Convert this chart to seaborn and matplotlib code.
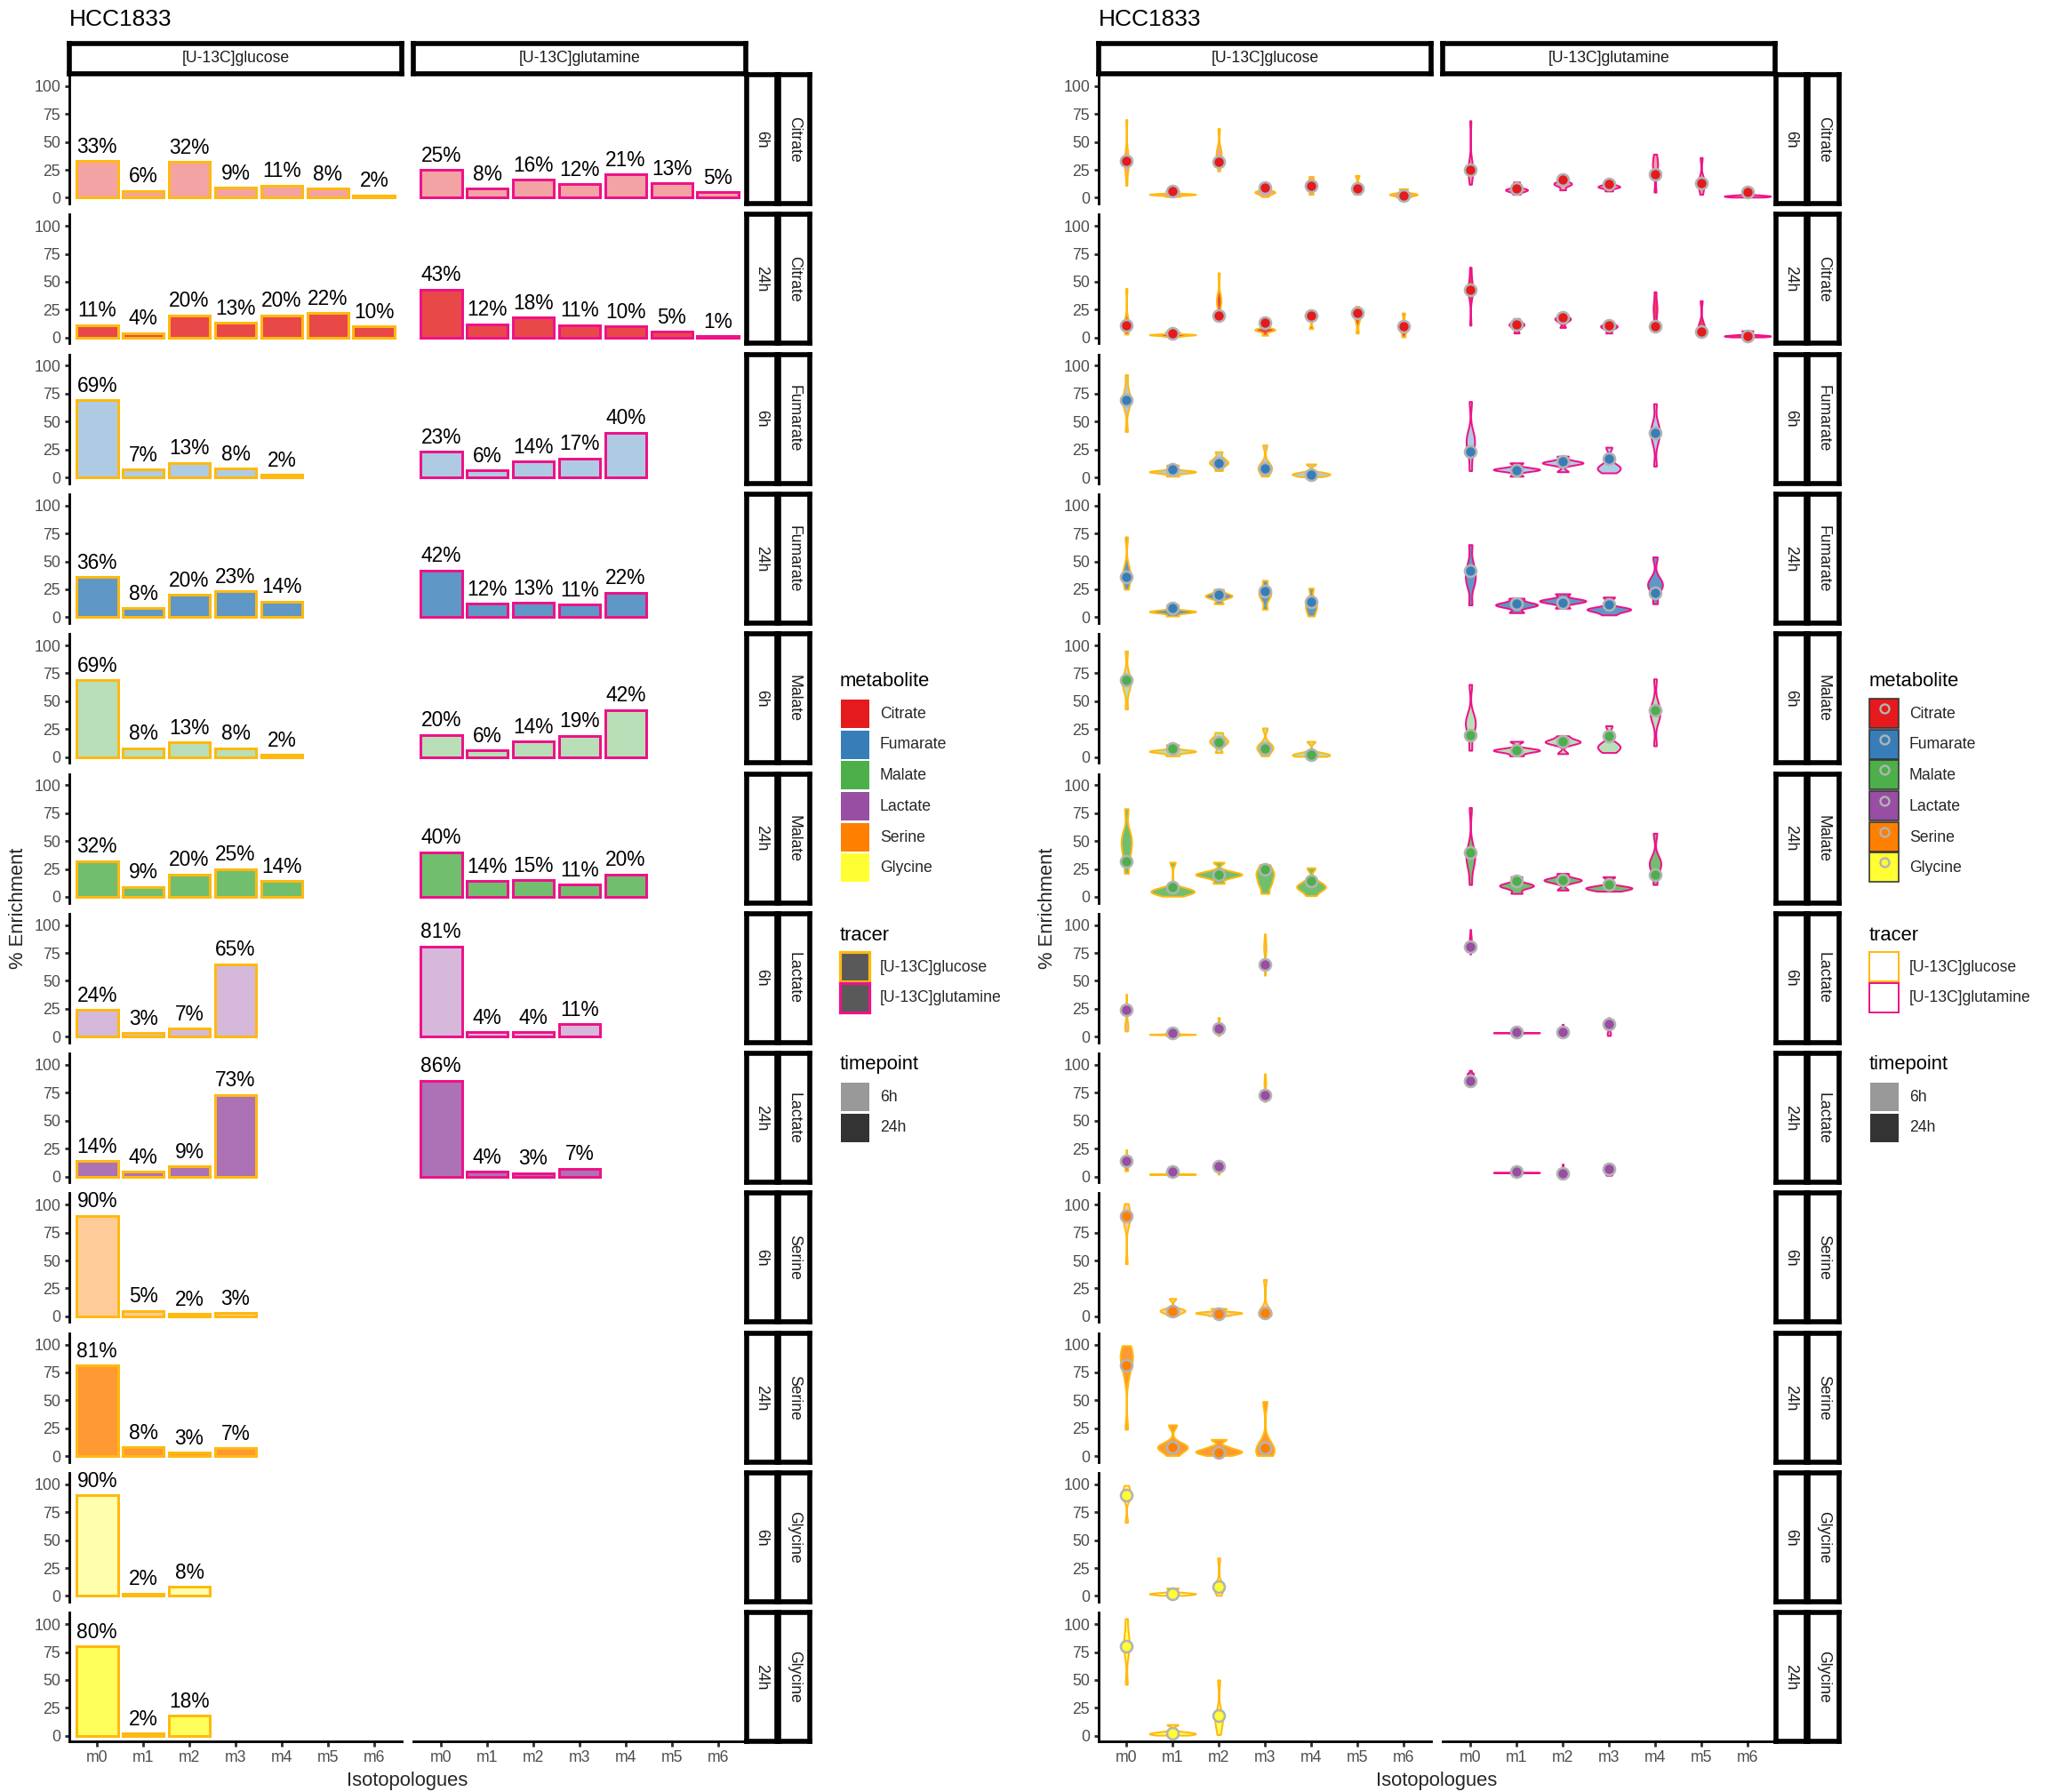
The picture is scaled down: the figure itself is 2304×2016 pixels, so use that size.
import matplotlib
matplotlib.use("Agg")
import matplotlib.pyplot as plt
import seaborn as sns
import pandas as pd
import numpy as np
from matplotlib.patches import Patch
from matplotlib.lines import Line2D
from matplotlib.colors import to_rgb

# ---------------- data ----------------
cell_line = "HCC1833"
metabolites = ["Citrate", "Fumarate", "Malate", "Lactate", "Serine", "Glycine"]
timepoints = ["6h", "24h"]
tracers = ["[U-13C]glucose", "[U-13C]glutamine"]
isotopologues = ["m0", "m1", "m2", "m3", "m4", "m5", "m6"]
metabolite_colors = ["#E41A1C", "#377EB8", "#4DAF4A", "#984EA3", "#FF7F00", "#FFFF33"]
tracer_colors = ["#FFB90F", "#EE1289"]
timepoint_alpha = [0.4, 0.8]

# mean % enrichment (bar heights / points)
citrate_6h_glucose = [33, 6, 32, 9, 11, 8, 2]
citrate_6h_glutamine = [25, 8, 16, 12, 21, 13, 5]
citrate_24h_glucose = [11, 4, 20, 13, 20, 22, 10]
citrate_24h_glutamine = [43, 12, 18, 11, 10, 5, 1]
fumarate_6h_glucose = [69, 7, 13, 8, 2]
fumarate_6h_glutamine = [23, 6, 14, 17, 40]
fumarate_24h_glucose = [36, 8, 20, 23, 14]
fumarate_24h_glutamine = [42, 12, 13, 11, 22]
malate_6h_glucose = [69, 8, 13, 8, 2]
malate_6h_glutamine = [20, 6, 14, 19, 42]
malate_24h_glucose = [32, 9, 20, 25, 14]
malate_24h_glutamine = [40, 14, 15, 11, 20]
lactate_6h_glucose = [24, 3, 7, 65]
lactate_6h_glutamine = [81, 4, 4, 11]
lactate_24h_glucose = [14, 4, 9, 73]
lactate_24h_glutamine = [86, 4, 3, 7]
serine_6h_glucose = [90, 5, 2, 3]
serine_6h_glutamine = []
serine_24h_glucose = [81, 8, 3, 7]
serine_24h_glutamine = []
glycine_6h_glucose = [90, 2, 8]
glycine_6h_glutamine = []
glycine_24h_glucose = [80, 2, 18]
glycine_24h_glutamine = []

# replicate-level values behind the violins (one list per isotopologue)
citrate_6h_glucose_samples = [[11, 24, 29, 31, 33, 36, 42, 70], [1, 2.5, 3, 3, 3.5, 6], [24, 33, 37, 40, 44, 62],
                              [1, 4, 5, 5, 6, 13], [3, 9, 11, 12, 14, 19], [3, 6, 8, 9, 11, 20], [0.5, 2, 3, 3, 4, 8]]
citrate_6h_glutamine_samples = [[12, 20, 23, 25, 28, 33, 69], [3, 6, 7, 7, 8, 14], [7, 11, 12, 13, 14, 19],
                                [6, 9, 10, 10, 12, 15], [5, 20, 26, 30, 33, 39], [3, 10, 12, 14, 18, 36],
                                [0.5, 1, 1.5, 1.5, 2, 6]]
citrate_24h_glucose_samples = [[3, 8, 10, 12, 16, 44], [1, 2, 2.5, 2.5, 3, 5], [16, 28, 32, 34, 37, 58],
                               [2, 6, 7, 7, 8, 12], [8, 17, 19, 20, 21, 23], [4, 14, 18, 21, 23, 28],
                               [0.5, 6, 8, 10, 12, 22]]
citrate_24h_glutamine_samples = [[11, 36, 41, 43, 46, 52, 63], [4, 9, 11, 12, 13, 17], [9, 14, 16, 17, 18, 21],
                                 [4, 8, 10, 10, 12, 15], [5, 10, 20, 26, 30, 41], [2, 5, 7, 9, 13, 33],
                                 [0.5, 1, 1.5, 1.5, 2, 6]]
fumarate_6h_glucose_samples = [[41, 62, 67, 69, 72, 78, 92], [1, 4.5, 5, 5, 5.5, 11], [6, 11, 13, 14, 17, 23],
                               [1, 6, 8, 9, 13, 29], [0.5, 2, 3, 3, 4, 12]]
fumarate_6h_glutamine_samples = [[6, 22, 28, 32, 35, 40, 68], [1, 6, 7, 7, 8, 13], [5, 12, 13, 13, 14, 19],
                                 [4, 7, 8, 9, 12, 27], [10, 30, 37, 40, 43, 48, 66]]
fumarate_24h_glucose_samples = [[25, 33, 36, 40, 45, 72], [1, 4.5, 5, 5, 5.5, 11], [12, 17, 19, 19, 21, 25],
                                [7, 16, 20, 22, 25, 33], [1, 6, 9, 12, 16, 26]]
fumarate_24h_glutamine_samples = [[11, 28, 33, 37, 42, 48, 65], [4, 9, 11, 11, 13, 17], [8, 13, 14, 15, 16, 21],
                                  [2, 6, 7, 7, 8, 18], [12, 25, 28, 30, 34, 54]]
malate_6h_glucose_samples = [[43, 60, 64, 67, 70, 75, 95], [1, 4.5, 5, 5, 6, 11], [4, 11, 13, 15, 17, 22],
                             [1, 6, 8, 9, 12, 26], [0.5, 1.5, 2, 2, 3, 14]]
malate_6h_glutamine_samples = [[6, 22, 27, 30, 33, 38, 65], [1, 5, 6, 6, 7, 14], [3, 12, 13, 14, 15, 19],
                               [4, 7, 9, 10, 13, 28], [10, 32, 37, 40, 43, 48, 70]]
malate_24h_glucose_samples = [[21, 35, 42, 48, 52, 58, 79], [0.5, 3, 4, 4.5, 5, 5, 5.5, 6, 7, 31],
                              [12, 17, 19, 20, 20, 21, 23, 31], [3, 10, 14, 18, 21, 24, 29], [1, 6, 8, 9, 11, 14, 26]]
malate_24h_glutamine_samples = [[11, 28, 33, 36, 39, 45, 80], [3, 8, 10, 10, 12, 18], [6, 13, 15, 15, 16, 21],
                                [5, 7, 8, 8, 9, 18], [11, 24, 28, 31, 34, 57]]
lactate_6h_glucose_samples = [[5, 8, 9, 10, 12, 38], [1, 1.8, 2, 2, 2.2, 3], [1, 5, 7, 7, 9, 17],
                              [55, 75, 79, 81, 84, 92]]
lactate_6h_glutamine_samples = [[74, 84, 87, 88, 90, 96], [3, 3.4, 3.5, 3.5, 3.6, 4], [1, 2.5, 3, 3, 4, 11],
                                [1, 2, 2.5, 3, 4, 17]]
lactate_24h_glucose_samples = [[5, 6.5, 7, 7, 8, 24], [1.5, 1.9, 2, 2, 2.1, 2.5], [2, 6, 7, 8, 9, 12],
                               [67, 80, 83, 84, 87, 92]]
lactate_24h_glutamine_samples = [[89, 91, 92, 92, 93, 95], [3, 3.4, 3.5, 3.5, 3.6, 4], [1, 1.8, 2, 2, 3, 11],
                                 [1, 1.8, 2, 2, 3, 9]]
serine_6h_glucose_samples = [[47, 82, 87, 89, 91, 94, 101], [0.5, 4, 5, 5, 6, 16], [0.5, 2, 3, 3, 4, 7],
                             [0.5, 2, 3, 3, 5, 33]]
serine_6h_glutamine_samples = []
serine_24h_glucose_samples = [[24, 70, 80, 85, 88, 91, 94, 99], [0.5, 6, 8, 8, 11, 28], [0.5, 3, 4, 5, 8, 15],
                              [0.5, 4, 5, 6, 12, 49]]
serine_24h_glutamine_samples = []
glycine_6h_glucose_samples = [[66, 87, 90, 91, 94, 99], [0.5, 1.5, 2, 2, 2.5, 7], [0.5, 6, 7, 8, 11, 34]]
glycine_6h_glutamine_samples = []
glycine_24h_glucose_samples = [[46, 72, 80, 84, 90, 105], [0.5, 1.5, 2, 2, 3, 10], [1, 10, 14, 16, 22, 50]]
glycine_24h_glutamine_samples = []

# ---------------- tables built from the arrays ----------------
g = globals()
bar_records, samp_records = [], []
for m in metabolites:
    for t in timepoints:
        for tr, trk in zip(tracers, ["glucose", "glutamine"]):
            key = f"{m.lower()}_{t}_{trk}"
            for iso, v in zip(isotopologues, g[key]):
                bar_records.append(dict(metabolite=m, timepoint=t, tracer=tr, iso=iso, value=v))
            for iso, ss in zip(isotopologues, g[key + "_samples"]):
                for s in ss:
                    samp_records.append(dict(metabolite=m, timepoint=t, tracer=tr, iso=iso, value=s))
bars_df = pd.DataFrame(bar_records)
samples_df = pd.DataFrame(samp_records)

# ---------------- styling ----------------
sns.set_theme(style="white")
plt.rcParams["font.family"] = ["Liberation Sans", "DejaVu Sans"]

W, H, DPI = 2304, 2016, 144
fig = plt.figure(figsize=(W / DPI, H / DPI), dpi=DPI)
fig.patch.set_facecolor("white")


def px_axes(x0, y0, w, h):
    return fig.add_axes([x0 / W, 1 - (y0 + h) / H, w / W, h / H])


def blend(c, a):
    r = np.array(to_rgb(c))
    return tuple(r * a + (1 - a))


COL_X = [78, 465]
COL_W = 374
ROW_Y0, ROW_PITCH, ROW_H = 84, 157.3, 145
STRIP_Y, STRIP_H = 49, 34
TP_X, TP_W = 840, 34
MET_X, MET_W = 876, 35
HALVES = [(0, "bar"), (1158, "violin")]
AXW = 1.42
TICKC = "#333333"
LABC = "#4D4D4D"


def style_strip(ax):
    ax.set_xticks([])
    ax.set_yticks([])
    ax.set_facecolor("white")
    for s in ax.spines.values():
        s.set_visible(True)
        s.set_linewidth(2.8)
        s.set_color("black")


panel_rows = [(m, t) for m in metabolites for t in timepoints]
nrows = len(panel_rows)

for ox, kind in HALVES:
    fig.text((ox + COL_X[0]) / W, 1 - 22 / H, cell_line, fontsize=13.2, ha="left", va="center", color="black")
    for ci, tr in enumerate(tracers):
        sa = px_axes(ox + COL_X[ci], STRIP_Y, COL_W, STRIP_H)
        style_strip(sa)
        sa.text(0.5, 0.5, tr, transform=sa.transAxes, ha="center", va="center", fontsize=8.8, color="#1A1A1A")
    for ri, (m, t) in enumerate(panel_rows):
        y0 = ROW_Y0 + ri * ROW_PITCH
        mi = metabolites.index(m)
        fill = blend(metabolite_colors[mi], timepoint_alpha[timepoints.index(t)])
        for ci, tr in enumerate(tracers):
            ax = px_axes(ox + COL_X[ci], y0, COL_W, ROW_H)
            ax.set_facecolor("none")
            edge = tracer_colors[ci]
            sub = bars_df[(bars_df.metabolite == m) & (bars_df.timepoint == t) & (bars_df.tracer == tr)]
            if kind == "bar":
                if len(sub):
                    sns.barplot(data=sub, x="iso", y="value", order=isotopologues, color=fill,
                                edgecolor=edge, linewidth=1.5, width=0.9, saturation=1,
                                errorbar=None, ax=ax)
                    for iso, v in zip(sub.iso, sub.value):
                        ax.annotate(f"{v:.0f}%", (isotopologues.index(iso), v), xytext=(0, 2.2),
                                    textcoords="offset points", ha="center", va="bottom",
                                    fontsize=11.4, color="black")
            else:
                ss = samples_df[(samples_df.metabolite == m) & (samples_df.timepoint == t) & (samples_df.tracer == tr)]
                if len(ss):
                    sns.violinplot(data=ss, x="iso", y="value", order=isotopologues, color=fill,
                                   linecolor=edge, linewidth=1.0, cut=0, inner=None, bw_adjust=0.55,
                                   density_norm="area", width=1.0, saturation=1, ax=ax)
                    sns.stripplot(data=sub, x="iso", y="value", order=isotopologues, jitter=False,
                                  color=metabolite_colors[mi], edgecolor="#B3B3B3", linewidth=1.3,
                                  size=6.5, ax=ax, zorder=5)
            ax.set_xlim(-0.6, len(isotopologues) - 0.4)
            ax.set_ylim(-5.25, 110.25)
            ax.set_xlabel("")
            ax.set_ylabel("")
            ax.grid(False)
            for s in ["top", "right"]:
                ax.spines[s].set_visible(False)
            ax.spines["left"].set_visible(ci == 0)
            ax.spines["bottom"].set_visible(ri == nrows - 1)
            for s in ["left", "bottom"]:
                ax.spines[s].set_linewidth(AXW)
                ax.spines[s].set_color("black")
            if ci == 0:
                ax.set_yticks([0, 25, 50, 75, 100])
                ax.set_yticklabels(["0", "25", "50", "75", "100"])
                ax.tick_params(axis="y", left=True, length=2.75, width=AXW, color=TICKC,
                               labelsize=8.8, labelcolor=LABC, pad=2.2)
            else:
                ax.set_yticks([])
            if ri == nrows - 1:
                ax.set_xticks(range(len(isotopologues)))
                ax.set_xticklabels(isotopologues)
                ax.tick_params(axis="x", bottom=True, length=2.75, width=AXW, color=TICKC,
                               labelsize=8.8, labelcolor=LABC, pad=2.2)
            else:
                ax.set_xticks([])
        ta = px_axes(ox + TP_X, y0, TP_W, ROW_H)
        style_strip(ta)
        ta.text(0.5, 0.5, t, transform=ta.transAxes, rotation=-90, ha="center", va="center",
                fontsize=8.8, color="#1A1A1A")
        ma = px_axes(ox + MET_X, y0, MET_W, ROW_H)
        style_strip(ma)
        ma.text(0.5, 0.5, m, transform=ma.transAxes, rotation=-90, ha="center", va="center",
                fontsize=8.8, color="#1A1A1A")

    fig.text((ox + 21) / W, 1 - 1022 / H, "% Enrichment", rotation=90, fontsize=11, ha="center", va="center")
    fig.text((ox + 458) / W, 1 - 2003 / H, "Isotopologues", fontsize=11, ha="center", va="center")

    LX = ox + 945
    if kind == "bar":
        met_handles = [Patch(facecolor=c, edgecolor="white", linewidth=0.5) for c in metabolite_colors]
        tr_handles = [Patch(facecolor="#595959", edgecolor=c, linewidth=1.6) for c in tracer_colors]
    else:
        met_handles = [(Patch(facecolor=c, edgecolor="#333333", linewidth=0.8),
                        Line2D([], [], marker="o", linestyle="none", markerfacecolor="none",
                               markeredgecolor="#B3B3B3", markersize=5, markeredgewidth=1.2))
                       for c in metabolite_colors]
        tr_handles = [Patch(facecolor="white", edgecolor=c, linewidth=1.0) for c in tracer_colors]
    tp_handles = [Patch(facecolor=blend("black", a), edgecolor="white", linewidth=0.5) for a in timepoint_alpha]
    groups = [("metabolite", met_handles, metabolites, 767, 786),
              ("tracer", tr_handles, tracers, 1052, 1071),
              ("timepoint", tp_handles, timepoints, 1198, 1217)]
    for title, handles, labels, ty, ky in groups:
        fig.text(LX / W, 1 - ty / H, title, fontsize=11, ha="left", va="center", color="black")
        fig.legend(handles, labels, loc="upper left", bbox_to_anchor=(LX / W, 1 - ky / H),
                   frameon=False, fontsize=8.8, handlelength=1.9, handleheight=2.5,
                   labelspacing=0.1, handletextpad=0.65, borderpad=0, borderaxespad=0)

fig.savefig("out.png", dpi=DPI, facecolor="white")
